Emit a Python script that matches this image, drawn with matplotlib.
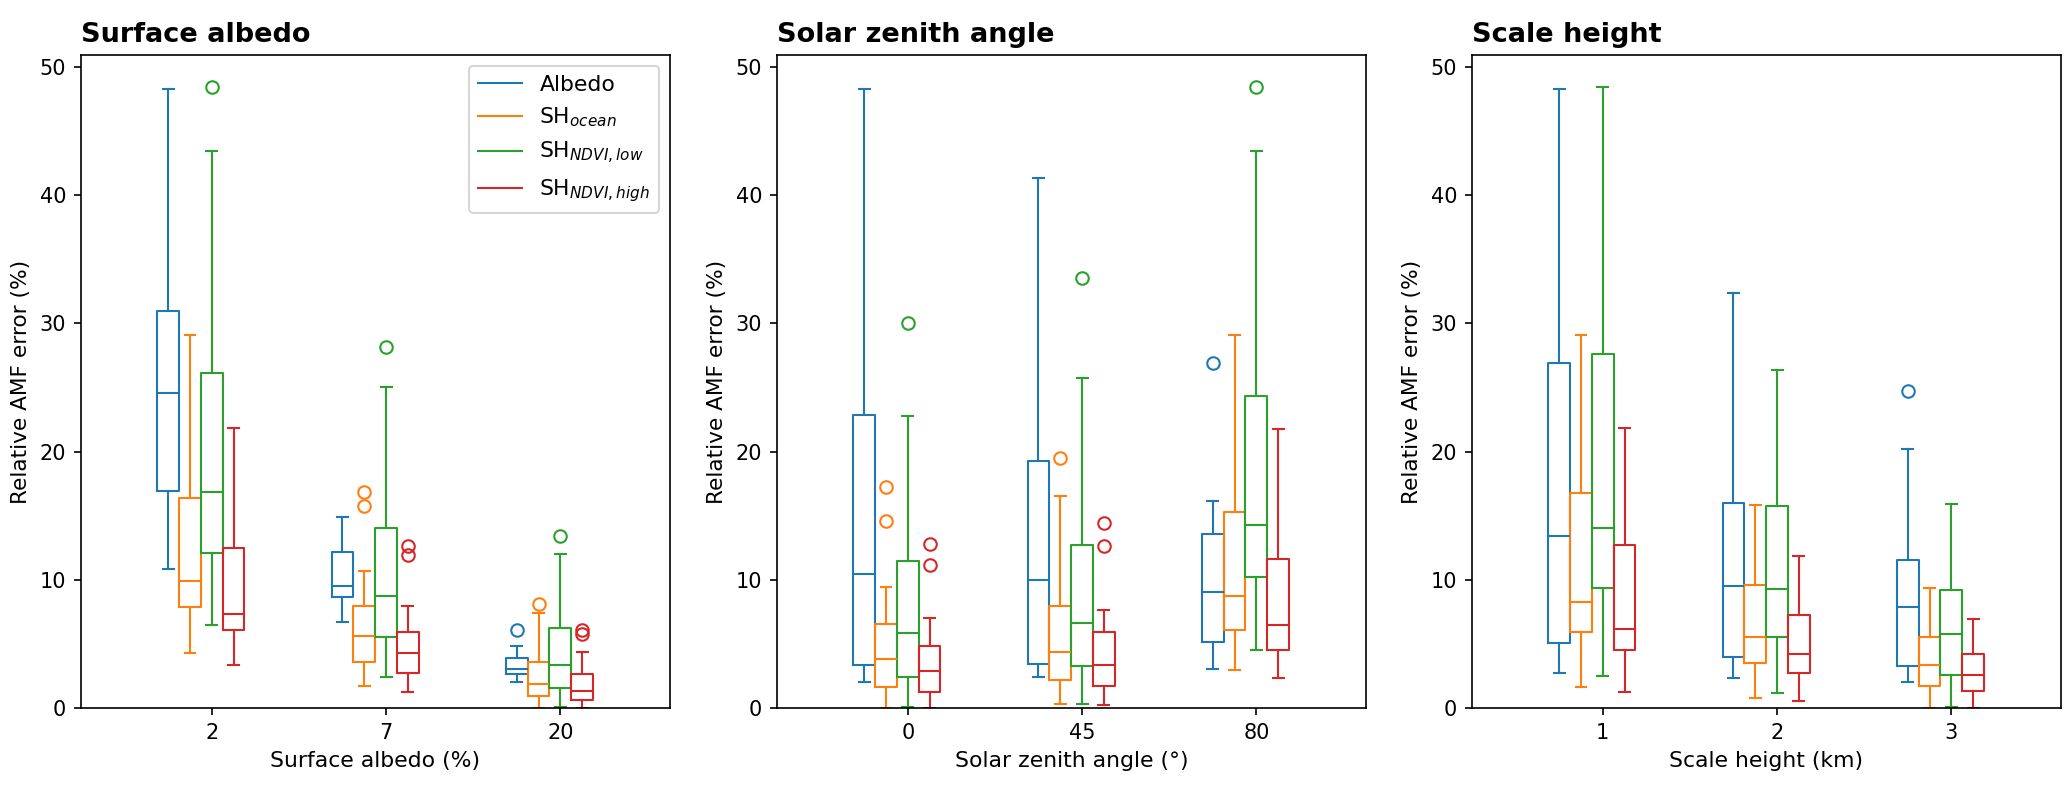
import matplotlib
matplotlib.use("Agg")
import matplotlib.pyplot as plt
from matplotlib.lines import Line2D

# ---------------- data ----------------
series_labels = ["Albedo", r"SH$_{ocean}$", r"SH$_{NDVI,low}$", r"SH$_{NDVI,high}$"]
series_colors = ["#1f77b4", "#ff7f0e", "#2ca02c", "#d62728"]

# Panel 1: surface albedo ; rows = category, cols = series
albedo_cats = ["2", "7", "20"]
albedo_whislo = [[10.86, 4.29, 6.49, 3.35], [6.75, 1.71, 2.46, 1.29], [2.05, 0.0, 0.08, 0.0]]
albedo_q1 = [[16.94, 7.87, 12.13, 6.08], [8.70, 3.59, 5.56, 2.73], [2.67, 0.96, 1.56, 0.65]]
albedo_med = [[24.55, 9.92, 16.86, 7.37], [9.53, 5.61, 8.75, 4.33], [3.06, 1.89, 3.40, 1.37]]
albedo_q3 = [[30.97, 16.37, 26.16, 12.47], [12.18, 8.00, 14.03, 5.97], [3.90, 3.63, 6.28, 2.67]]
albedo_whishi = [[48.3, 29.1, 43.44, 21.82], [14.91, 10.73, 25.05, 8.0], [4.88, 7.45, 12.05, 4.36]]
albedo_fliers = [[[], [], [48.45], []],
                 [[], [16.84, 15.77], [28.18], [12.65, 11.97]],
                 [[6.10], [8.10], [13.45], [6.10, 5.77]]]

# Panel 2: solar zenith angle
sza_cats = ["0", "45", "80"]
sza_whislo = [[2.05, 0.0, 0.08, 0.0], [2.46, 0.31, 0.31, 0.26], [3.09, 3.01, 4.54, 2.34]]
sza_q1 = [[3.37, 1.64, 2.46, 1.25], [3.43, 2.18, 3.30, 1.71], [5.19, 6.13, 10.26, 4.54]]
sza_med = [[10.49, 3.84, 5.87, 2.91], [9.97, 4.39, 6.67, 3.37], [9.09, 8.75, 14.29, 6.49]]
sza_q3 = [[22.86, 6.60, 11.48, 4.88], [19.27, 8.00, 12.75, 5.97], [13.59, 15.32, 24.36, 11.61]]
sza_whishi = [[48.3, 9.45, 22.76, 7.01], [41.36, 16.55, 25.77, 7.68], [16.18, 29.1, 43.44, 21.79]]
sza_fliers = [[[], [17.25, 14.60], [30.0], [12.78, 11.17]],
              [[], [19.53], [33.56], [14.47, 12.67]],
              [[26.89], [], [48.43], []]]

# Panel 3: scale height
sh_cats = ["1", "2", "3"]
sh_whislo = [[2.73, 1.64, 2.52, 1.25], [2.39, 0.78, 1.17, 0.59], [2.05, 0.0, 0.12, 0.0]]
sh_q1 = [[5.09, 5.97, 9.40, 4.54], [4.02, 3.55, 5.53, 2.73], [3.32, 1.76, 2.62, 1.35]]
sh_med = [[13.43, 8.29, 14.03, 6.16], [9.51, 5.56, 9.27, 4.21], [7.87, 3.40, 5.79, 2.57]]
sh_q3 = [[26.89, 16.80, 27.64, 12.73], [16.03, 9.61, 15.79, 7.25], [11.56, 5.56, 9.20, 4.21]]
sh_whishi = [[48.3, 29.1, 48.45, 21.82], [32.35, 15.85, 26.37, 11.87], [20.19, 9.40, 15.90, 6.98]]
sh_fliers = [[[], [], [], []],
             [[], [], [], []],
             [[24.75], [], [], []]]

panels = [
    ("Surface albedo", "Surface albedo (%)", albedo_cats, albedo_whislo, albedo_q1, albedo_med, albedo_q3, albedo_whishi, albedo_fliers),
    ("Solar zenith angle", "Solar zenith angle (°)", sza_cats, sza_whislo, sza_q1, sza_med, sza_q3, sza_whishi, sza_fliers),
    ("Scale height", "Scale height (km)", sh_cats, sh_whislo, sh_q1, sh_med, sh_q3, sh_whishi, sh_fliers),
]

# ---------------- figure ----------------
plt.rcParams['font.family'] = ['DejaVu Sans']
fig = plt.figure(figsize=(2067 / 150, 795 / 150), dpi=150)

offsets = [-0.25, -0.125, 0.0, 0.125]
width = 0.125
ax_w = 589.3 / 2067
ax_h = (708.3 - 55) / 795
ax_b = (795 - 708.3) / 795
lefts = [80.7 / 2067, 776.7 / 2067, 1471.7 / 2067]

for p, (title, xlabel, cats, wlo, q1, med, q3, whi, fl) in enumerate(panels):
    ax = fig.add_axes([lefts[p], ax_b, ax_w, ax_h])
    for j, col in enumerate(series_colors):
        stats = []
        pos = []
        for i in range(len(cats)):
            stats.append(dict(whislo=wlo[i][j], q1=q1[i][j], med=med[i][j],
                              q3=q3[i][j], whishi=whi[i][j], fliers=fl[i][j]))
            pos.append(i + offsets[j])
        ax.bxp(stats, positions=pos, widths=width, manage_ticks=False,
               boxprops=dict(color=col, linewidth=1.0),
               whiskerprops=dict(color=col, linewidth=1.0),
               capprops=dict(color=col, linewidth=1.0),
               medianprops=dict(color=col, linewidth=1.0),
               flierprops=dict(marker='o', markeredgecolor=col, markerfacecolor='none',
                               markersize=6, linestyle='none'))
    ax.set_xticks(range(len(cats)))
    ax.set_xticklabels(cats)
    ax.tick_params(labelsize=10)
    ax.set_xlim(-0.752, 2.629)
    ax.set_ylim(0, 50.92)
    ax.set_yticks([0, 10, 20, 30, 40, 50])
    ax.set_xlabel(xlabel, fontsize=10.5)
    ax.set_ylabel("Relative AMF error (%)", fontsize=10.4)
    ax.set_title(title, loc='left', fontweight='bold', fontsize=13)
    if p == 0:
        handles = [Line2D([0], [0], color=c, lw=1.0) for c in series_colors]
        ax.legend(handles, series_labels, loc='upper right', fontsize=10.5)

fig.savefig("out.png", dpi=150)
